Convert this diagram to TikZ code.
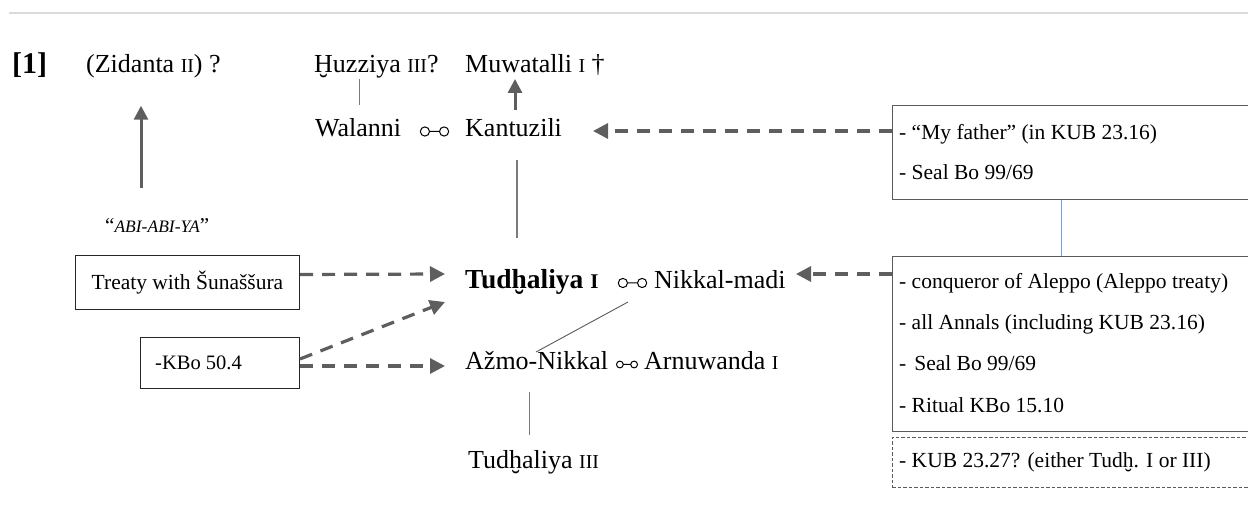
\documentclass[tikz,border=0pt]{standalone}
\usepackage{fontspec}
\usepackage{graphicx}
\setmainfont{Liberation Serif}
\usetikzlibrary{arrows.meta,calc}
\definecolor{arrgray}{HTML}{5E5E5E}
\definecolor{kingray}{HTML}{7A7A7A}
\definecolor{boxgray}{HTML}{5A5A5A}
\definecolor{rulegray}{HTML}{DADADA}
\definecolor{linkblue}{HTML}{6FA2D9}
% regnal numbers in small capitals
\newcommand\rn[1]{\scalebox{0.76}{#1}}
\begin{document}
\begin{tikzpicture}[x=1bp,y=-1bp,
  person/.style={font=\fontsize{26bp}{30bp}\selectfont, inner sep=0pt, anchor=base west},
  srcline/.style={font=\fontsize{21.5bp}{25bp}\selectfont, inner sep=0pt, anchor=base west},
  darr/.style={draw=arrgray, line width=3.2bp, dash pattern=on 13bp off 9bp,
    -{Triangle[length=15bp,width=15bp]}},
  sarr/.style={draw=arrgray, line width=3bp, -{Triangle[length=14bp,width=14bp]}},
  kin/.style={draw=kingray, line width=1.2bp},
  lbox/.style={draw=black!85, line width=1bp, inner sep=0pt, anchor=north west},
  rbox/.style={draw=boxgray, line width=1.4bp, inner sep=0pt, anchor=north west},
  dbox/.style={draw=boxgray, line width=0.8bp, dash pattern=on 3.5bp off 2bp, inner sep=0pt, anchor=north west},
  marriage/.pic={\draw[line width=1bp, black] (-9.6bp,0) circle[radius=4.6bp]
      (-5bp,0) -- (5bp,0) (9.6bp,0) circle[radius=4.6bp];}
]
\useasboundingbox (0,0) rectangle (1248,506);

% header rule
\draw[rulegray, line width=1.5bp] (9,13) -- (1248,13);

% section number
\node[person, font=\fontsize{30bp}{34bp}\selectfont\bfseries] (num) at (12,73.5) {[1]};

% generation 1
\node[person] (n-zid) at (86,73) {(Zidanta \rn{II}) ?};
\node[person] (n-huz) at (314,73) {Ḫuzziya \rn{III}?};
\node[person] (n-muw) at (465,73) {Muwatalli \rn{I} †};

% generation 2
\node[person] (n-wal) at (315,137) {Walanni};
\pic at (434.5,131.5) {marriage};
\node[person] (n-kan) at (465,137) {Kantuzili};

% generation 3
\node[person, font=\fontsize{27.5bp}{31bp}\selectfont\bfseries] (n-tud1) at (465,289) {Tudḫaliya \rn{I}};
\pic at (632.5,283) {marriage};
\node[person] (n-nik) at (654,289) {Nikkal-madi};

% generation 4
\node[person] (n-azm) at (465,370) {Ažmo-Nikkal};
\pic[scale=0.74] at (627,364.5) {marriage};
\node[person] (n-arn) at (644,370) {Arnuwanda \rn{I}};

% generation 5
\node[person] (n-tud3) at (468,468) {Tudḫaliya \rn{III}};

% epithet
\node[person, font=\fontsize{21bp}{25bp}\selectfont] (n-abi) at (105,233)
  {“{\itshape\fontsize{17.5bp}{20bp}\selectfont ABI-ABI-YA}”};

% left-hand sources
\node[lbox, minimum width=224bp, minimum height=54bp,
  font=\fontsize{21.5bp}{25bp}\selectfont] (treaty) at (75,255) {Treaty with Šunaššura};
\node[lbox, minimum width=159bp, minimum height=51bp] (kbo) at (140,337) {};
\node[srcline, font=\fontsize{20.5bp}{24bp}\selectfont] (kbo-t) at (155,370) {-KBo 50.4};

% right-hand sources
\node[rbox, minimum width=380bp, minimum height=94bp] (box1) at (892,105) {};
\node[srcline] (b1-a) at (899,140) {- “My father” (in KUB 23.16)};
\node[srcline] (b1-b) at (899,180) {- Seal Bo 99/69};

\node[rbox, minimum width=380bp, minimum height=175bp] (box2) at (892,256) {};
\node[srcline] (b2-a) at (899,289) {- conqueror of Aleppo (Aleppo treaty)};
\node[srcline] (b2-b) at (899,330) {- all Annals (including KUB 23.16)};
\node[srcline] (b2-c) at (899,371) {-\kern0.12em\ Seal Bo 99/69};
\node[srcline] (b2-d) at (899,412) {- Ritual KBo 15.10};

\node[dbox, minimum width=380bp, minimum height=50bp] (box3) at (892,437) {};
\node[srcline] (b3-a) at (899,467) {- KUB 23.27? (either Tudḫ. I or III)};

% descent lines
\draw[kin, line width=1bp] ($(n-huz.base west)+(45,6)$) -- ($(n-wal.base west)+(44,-32)$);
\draw[kin, line width=1.5bp] ($(n-kan.base west)+(52,23)$) -- ($(n-tud1.base west)+(52,-51)$);
\draw[kin, draw=black!65, line width=0.9bp] ($(n-azm.base west)+(71,-18)$) -- ($(n-tud1.base west)+(163,13)$);
\draw[kin, line width=1bp] ($(n-azm.base west)+(64,22)$) -- ($(n-tud3.base west)+(61,-33)$);

% succession arrows
\draw[sarr] ($(n-kan.base west)+(50,-27)$) -- ($(n-muw.base west)+(50,6)$);
\draw[sarr, shorten >=27bp] (141,188) coordinate (zid-foot) -- (zid-foot |- n-zid.south);

% evidence arrows
\draw[darr] ($(treaty.east)+(0,-8)$) -- ($(n-tud1.base west)+(-20,-15)$);
\draw[darr] ($(kbo.north east)+(0,22)$) -- ($(n-tud1.base west)+(-20,13)$);
\draw[darr] ($(kbo.north east)+(0,29)$) -- ($(n-azm.base west)+(-20,-4)$);
\draw[darr] ($(box1.north west)+(0,26)$) -- ($(n-kan.base west)+(128,-6)$);
\draw[darr] ($(box2.north west)+(0,18)$) -- ($(n-nik.base west)+(142,-15)$);

% link between the two source groups
\draw[linkblue, line width=1bp] ($(box1.south west)+(169,0)$) -- ($(box2.north west)+(169,0)$);
\end{tikzpicture}
\end{document}
